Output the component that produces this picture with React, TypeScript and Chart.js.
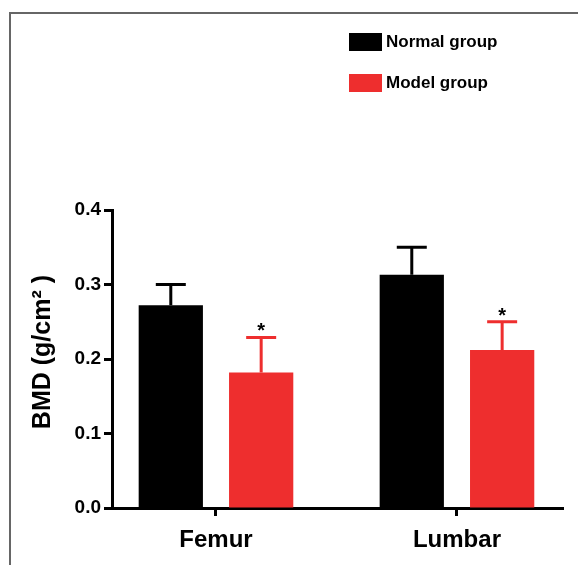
import React, { useEffect, useRef } from 'react';
import { Chart, registerables } from 'chart.js';

Chart.register(...registerables);

// ---- data ----
const categories = ['Femur', 'Lumbar'];
const seriesNames = ['Normal group', 'Model group'];
const normalMeans = [0.272, 0.313];
const normalErrors = [0.028, 0.037];
const modelMeans = [0.182, 0.212];
const modelErrors = [0.047, 0.038];
const modelMarks = ['*', '*'];
const yTicks = [0, 0.1, 0.2, 0.3, 0.4];
const yTitle = 'BMD (g/cm² )';

// ---- style ----
const BLACK = '#000000';
const RED = '#ee2e2e';
const FONT = "'Liberation Sans', Arial, Helvetica, sans-serif";
const W = 578;
const H = 565;

const decorPlugin = {
  id: 'decor',
  beforeDraw(chart: any) {
    const { ctx } = chart;
    ctx.save();
    ctx.fillStyle = '#ffffff';
    ctx.fillRect(0, 0, chart.width, chart.height);
    ctx.strokeStyle = '#666666';
    ctx.lineWidth = 2;
    ctx.beginPath();
    ctx.moveTo(10, chart.height);
    ctx.lineTo(10, 13);
    ctx.lineTo(chart.width, 13);
    ctx.stroke();
    ctx.restore();
  },
  afterDatasetsDraw(chart: any) {
    const { ctx } = chart;
    const yScale = chart.scales.y;
    ctx.save();
    chart.data.datasets.forEach((ds: any, i: number) => {
      const meta = chart.getDatasetMeta(i);
      meta.data.forEach((el: any, j: number) => {
        const v = ds.data[j].y;
        const e = ds.errors[j];
        const x = el.x;
        const yBar = el.y;
        const yTop = yScale.getPixelForValue(v + e);
        ctx.strokeStyle = ds.backgroundColor;
        ctx.lineWidth = 3;
        ctx.lineCap = 'butt';
        ctx.beginPath();
        ctx.moveTo(x, yBar);
        ctx.lineTo(x, yTop);
        ctx.moveTo(x - 15, yTop);
        ctx.lineTo(x + 15, yTop);
        ctx.stroke();
        if (ds.marks && ds.marks[j]) {
          ctx.fillStyle = BLACK;
          ctx.font = `bold 20px ${FONT}`;
          ctx.textAlign = 'center';
          ctx.textBaseline = 'alphabetic';
          ctx.fillText(ds.marks[j], x, yTop);
        }
      });
    });
    ctx.restore();
  },
  afterDraw(chart: any) {
    const { ctx } = chart;
    ctx.save();
    chart.data.datasets.forEach((ds: any, i: number) => {
      const top = 33 + i * 41;
      ctx.fillStyle = ds.backgroundColor;
      ctx.fillRect(349, top, 33, 18);
      ctx.fillStyle = BLACK;
      ctx.font = `bold 17px ${FONT}`;
      ctx.textAlign = 'left';
      ctx.textBaseline = 'middle';
      ctx.fillText(ds.label, 386, top + 9.5);
    });
    ctx.restore();
  },
};

export default function App() {
  const ref = useRef<HTMLCanvasElement | null>(null);

  useEffect(() => {
    if (!ref.current) return;
    const chart = new Chart(ref.current, {
      type: 'bar',
      data: {
        datasets: [
          {
            label: seriesNames[0],
            data: categories.map((_, i) => ({ x: i, y: normalMeans[i] })),
            backgroundColor: BLACK,
            errors: normalErrors,
          } as any,
          {
            label: seriesNames[1],
            data: categories.map((_, i) => ({ x: i, y: modelMeans[i] })),
            backgroundColor: RED,
            errors: modelErrors,
            marks: modelMarks,
          } as any,
        ],
      },
      options: {
        responsive: false,
        animation: false,
        devicePixelRatio: 1,
        layout: { padding: { top: 210, right: 15, bottom: 0, left: 0 } },
        datasets: {
          bar: { categoryPercentage: 0.75, barPercentage: 0.711, borderWidth: 0 },
        },
        plugins: {
          legend: { display: false },
          tooltip: { enabled: false },
        },
        scales: {
          x: {
            type: 'linear',
            offset: false,
            min: -0.4315,
            max: 1.44,
            afterBuildTicks: (s: any) => {
              s.ticks = categories.map((_, i) => ({ value: i }));
            },
            afterFit: (s: any) => {
              s.height = 57;
            },
            ticks: {
              callback: (v: any) => categories[v] ?? '',
              font: { family: FONT, size: 24, weight: 'bold' },
              color: BLACK,
              padding: 10,
              maxRotation: 0,
              autoSkip: false,
            },
            grid: {
              offset: false,
              drawOnChartArea: false,
              drawTicks: true,
              tickLength: 8,
              tickWidth: 3,
              tickColor: BLACK,
            },
            border: { display: true, width: 3, color: BLACK },
          },
          y: {
            type: 'linear',
            min: 0,
            max: 0.4,
            afterBuildTicks: (s: any) => {
              s.ticks = yTicks.map((v) => ({ value: v }));
            },
            afterFit: (s: any) => {
              s.width = 112;
            },
            ticks: {
              callback: (v: any) => Number(v).toFixed(1),
              font: { family: FONT, size: 19, weight: 'bold' },
              color: BLACK,
              padding: 3,
            },
            grid: {
              drawOnChartArea: false,
              drawTicks: true,
              tickLength: 8,
              tickWidth: 3,
              tickColor: BLACK,
            },
            border: { display: true, width: 3, color: BLACK },
            title: {
              display: true,
              text: '  ' + yTitle,
              color: BLACK,
              font: { family: FONT, size: 25, weight: 'bold' },
              padding: { top: 28, bottom: 0 },
            },
          },
        },
      } as any,
      plugins: [decorPlugin],
    });
    return () => chart.destroy();
  }, []);

  return (
    <div style={{ position: 'absolute', left: 0, top: 0, width: W, height: H }}>
      <canvas ref={ref} width={W} height={H} style={{ display: 'block' }} />
    </div>
  );
}
